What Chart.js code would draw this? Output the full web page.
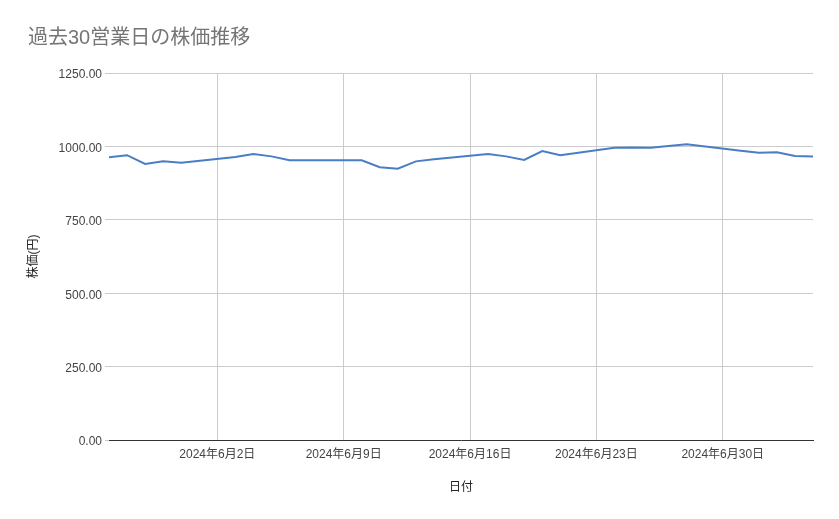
<!DOCTYPE html>
<html lang="ja">
<head>
<meta charset="utf-8">
<title>過去30営業日の株価推移</title>
<script src="https://cdn.jsdelivr.net/npm/chart.js@4/dist/chart.umd.min.js"></script>
<style>
    html, body { margin: 0; padding: 0; background: #fff; }
    #chart { display: block; }
</style>
</head>
<body>
<canvas id="chart" width="839" height="519"></canvas>
<script>
// 営業日 (土日を除く)
const tradeDates = [
    '2024-05-27', '2024-05-28', '2024-05-29', '2024-05-30', '2024-05-31',
    '2024-06-03', '2024-06-04', '2024-06-05', '2024-06-06', '2024-06-07',
    '2024-06-10', '2024-06-11', '2024-06-12', '2024-06-13', '2024-06-14',
    '2024-06-17', '2024-06-18', '2024-06-19', '2024-06-20', '2024-06-21',
    '2024-06-24', '2024-06-25', '2024-06-26', '2024-06-27', '2024-06-28',
    '2024-07-01', '2024-07-02', '2024-07-03', '2024-07-04', '2024-07-05'
];
const prices = [
    963, 970, 940, 949, 944,
    964, 974, 966, 953, 953,
    953, 929, 924, 949, 956,
    974, 966, 954, 984, 970,
    995, 996, 995, 1001, 1007,
    985, 978, 980, 967, 966
];
const axisStart = '2024-05-27';
const axisEnd = '2024-07-05';
const tickDates = ['2024-06-02', '2024-06-09', '2024-06-16', '2024-06-23', '2024-06-30'];
const tickLabels = ['2024年6月2日', '2024年6月9日', '2024年6月16日', '2024年6月23日', '2024年6月30日'];
const yTicks = [0, 250, 500, 750, 1000, 1250];

const DAY = 86400000;
function dayIndex(s) {
    const [y, m, d] = s.split('-').map(Number);
    const [y0, m0, d0] = axisStart.split('-').map(Number);
    return Math.round((Date.UTC(y, m - 1, d) - Date.UTC(y0, m0 - 1, d0)) / DAY);
}

const points = tradeDates.map((d, i) => ({ x: dayIndex(d), y: prices[i] }));
const tickPos = tickDates.map(dayIndex);

const labelFont = { family: '"Liberation Sans", Arial, "Noto Sans CJK JP", sans-serif', size: 12 };

new Chart(document.getElementById('chart'), {
    type: 'line',
    data: {
        datasets: [{
            label: '株価',
            data: points,
            borderColor: '#4a7ec4',
            borderWidth: 2,
            pointRadius: 0,
            tension: 0,
            fill: false
        }]
    },
    options: {
        responsive: false,
        animation: false,
        devicePixelRatio: 1,
        layout: { padding: { left: 28, right: 26, top: 0, bottom: 24 } },
        plugins: {
            legend: { display: false },
            tooltip: { enabled: false },
            title: {
                display: true,
                text: '過去30営業日の株価推移',
                align: 'start',
                color: '#757575',
                font: { family: '"Liberation Sans", Arial, "Noto Sans CJK JP", sans-serif', size: 20, weight: 'normal' },
                padding: { top: 26, bottom: 23 }
            }
        },
        scales: {
            x: {
                type: 'linear',
                min: dayIndex(axisStart),
                max: dayIndex(axisEnd),
                afterBuildTicks: scale => {
                    scale.ticks = tickPos.map(v => ({ value: v }));
                },
                afterFit: scale => { scale.height = 55; },
                ticks: {
                    autoSkip: false,
                    maxRotation: 0,
                    padding: 7,
                    color: '#444',
                    font: labelFont,
                    callback: value => tickLabels[tickPos.indexOf(value)]
                },
                grid: { color: '#cccccc', drawTicks: false },
                border: { display: true, color: '#333', width: 1 },
                title: {
                    display: true,
                    text: '日付',
                    color: '#222',
                    font: labelFont,
                    padding: { top: 0, bottom: 0 }
                }
            },
            y: {
                min: 0,
                max: 1250,
                afterBuildTicks: scale => {
                    scale.ticks = yTicks.map(v => ({ value: v }));
                },
                afterFit: scale => { scale.width = 81; },
                ticks: {
                    padding: 3,
                    labelOffset: 2,
                    color: '#444',
                    font: labelFont,
                    callback: value => value.toFixed(2)
                },
                grid: { color: '#cccccc', tickLength: 4 },
                border: { display: false },
                title: {
                    display: true,
                    text: '株価(円)',
                    color: '#222',
                    font: Object.assign({}, labelFont, { lineHeight: 1 }),
                    padding: { top: 0, bottom: 0 }
                }
            }
        }
    }
});
</script>
</body>
</html>
